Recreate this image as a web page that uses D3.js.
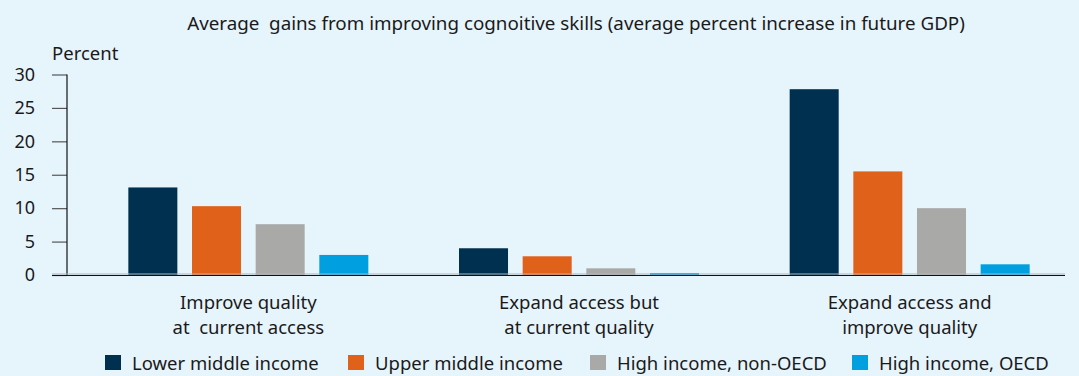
<!DOCTYPE html>
<html>
<head>
<meta charset="utf-8">
<script src="https://cdn.jsdelivr.net/npm/d3@7"></script>
<style>
  body { margin: 0; background: #e6f4fc; }
  svg { display: block; font-family: "Noto Sans", sans-serif; }
</style>
</head>
<body>
<script>
// chart data
const categories = [["Improve quality", "at  current access"], ["Expand access but", "at current quality"], ["Expand access and", "improve quality"]];
const seriesNames = ["Lower middle income", "Upper middle income", "High income, non-OECD", "High income, OECD"];
const seriesColors = ["#00304f", "#e0611a", "#a9a9a8", "#009fe0"];
const values = [
    [13.1, 10.3, 7.6, 3.0],
    [4.0, 2.8, 1.0, 0.3],
    [27.8, 15.5, 10.0, 1.6]
];
const yTicks = [0, 5, 10, 15, 20, 25, 30];

const width = 1079, height = 376;

let svg = d3.select("body").append("svg")
    .attr("width", width)
    .attr("height", height);

svg.append("rect").attr("width", width).attr("height", height).attr("fill", "#e6f4fc");

let y = d3.scaleLinear().domain([0, 30]).range([275, 74.5]);

let x0 = d3.scaleBand()
    .domain(d3.range(categories.length))
    .range([83, 1075]);

let x1 = d3.scaleBand()
    .domain(d3.range(seriesNames.length))
    .range([0, 240])
    .paddingInner(0.23);

// title
svg.append("text")
    .attr("x", 576).attr("y", 30)
    .attr("text-anchor", "middle")
    .attr("font-size", 18.8).attr("fill", "#1a1a1a")
    .attr("xml:space", "preserve")
    .style("white-space", "pre")
    .text("Average  gains from improving cognoitive skills (average percent increase in future GDP)");

svg.append("text")
    .attr("x", 52).attr("y", 60)
    .attr("font-size", 18.5).attr("fill", "#1a1a1a")
    .text("Percent");

// bars
let groups = svg.selectAll("g.group")
    .data(values)
    .enter()
    .append("g")
    .attr("class", "group")
    .attr("transform", (d, i) => "translate(" + (x0(i) + x0.bandwidth() / 2 - 120) + ",0)");

groups.selectAll("rect")
    .data(d => d)
    .enter()
    .append("rect")
    .attr("x", (d, i) => x1(i))
    .attr("width", x1.bandwidth())
    .attr("y", d => y(d))
    .attr("height", d => y(0) - y(d))
    .attr("fill", (d, i) => seriesColors[i]);

// y axis
let yAxis = d3.axisLeft(y).tickValues(yTicks).tickSize(15).tickPadding(17);
let yg = svg.append("g").attr("transform", "translate(67,0)").call(yAxis);
yg.select(".domain").remove();
yg.selectAll(".tick line").attr("stroke", "#555").attr("stroke-width", 1.2);
yg.selectAll(".tick text").attr("font-size", 18).attr("fill", "#1a1a1a")
    .attr("font-family", "Noto Sans, sans-serif");

svg.append("line")
    .attr("x1", 67).attr("x2", 67)
    .attr("y1", y(30)).attr("y2", y(0))
    .attr("stroke", "#111").attr("stroke-width", 1.2);

// baseline
svg.append("line")
    .attr("x1", 52).attr("x2", 1065)
    .attr("y1", y(0) - 1).attr("y2", y(0) - 1)
    .attr("stroke", "#b0b4b8").attr("stroke-width", 1);
svg.append("line")
    .attr("x1", 52).attr("x2", 1065)
    .attr("y1", y(0) + 0.5).attr("y2", y(0) + 0.5)
    .attr("stroke", "#111").attr("stroke-width", 1.2);

// category labels, one text per line
categories.forEach(function(lines, i) {
    let cx = x0(i) + x0.bandwidth() / 2;
    svg.selectAll("text.cat" + i)
        .data(lines)
        .enter()
        .append("text")
        .attr("class", "cat" + i)
        .attr("x", cx)
        .attr("y", (t, j) => 309 + j * 25)
        .attr("text-anchor", "middle")
        .attr("font-size", 18.5).attr("fill", "#1a1a1a")
        .attr("xml:space", "preserve")
        .style("white-space", "pre")
        .text(t => t);
});

// legend
const legendX = [105, 348, 590, 852];
let legend = svg.selectAll("g.legend")
    .data(seriesNames)
    .enter()
    .append("g")
    .attr("class", "legend")
    .attr("transform", (d, i) => "translate(" + legendX[i] + ",355)");

legend.append("rect")
    .attr("width", 16).attr("height", 15)
    .attr("fill", (d, i) => seriesColors[i]);

legend.append("text")
    .attr("x", 27).attr("y", 14.5)
    .attr("font-size", 18.5).attr("fill", "#1a1a1a")
    .text(d => d);
</script>
</body>
</html>
